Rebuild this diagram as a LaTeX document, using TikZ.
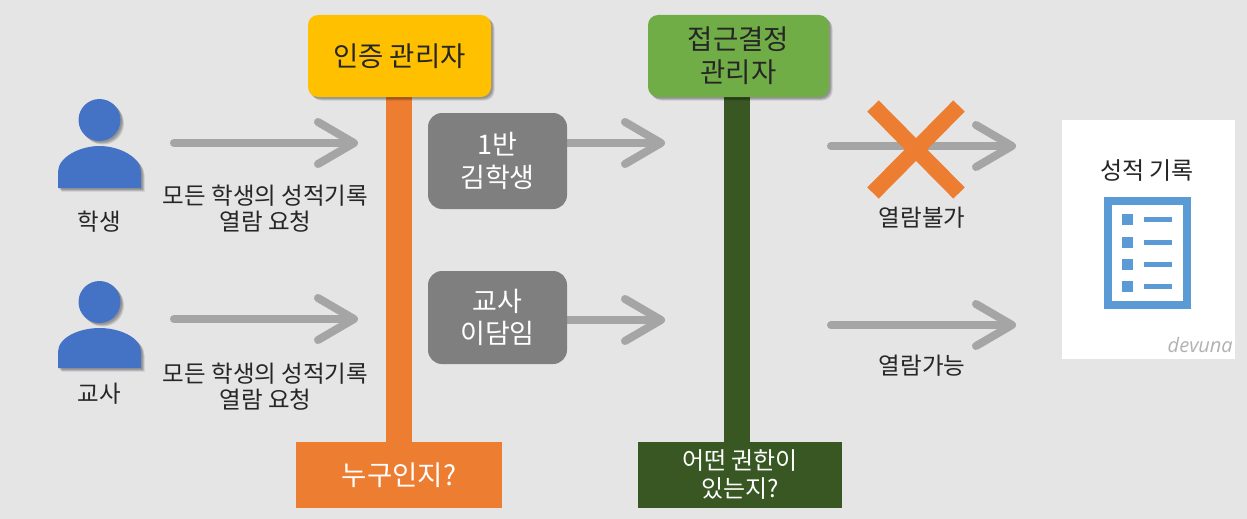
\documentclass[tikz,border=0pt]{standalone}
\usepackage{fontspec}
\setmainfont{Noto Sans CJK KR}
\newfontfamily\latinit{Open Sans}
\usetikzlibrary{arrows.meta,shadows,positioning,backgrounds}
\definecolor{bgc}{HTML}{E5E5E5}
\definecolor{yel}{HTML}{FFC000}
\definecolor{grn}{HTML}{70AD47}
\definecolor{org}{HTML}{ED7D31}
\definecolor{dgr}{HTML}{385723}
\definecolor{gbox}{HTML}{7F7F7F}
\definecolor{garr}{HTML}{A5A5A5}
\definecolor{pers}{HTML}{4472C4}
\definecolor{docb}{HTML}{5B9BD5}
\definecolor{txt}{HTML}{262626}
\tikzset{
  x=1pt,y=-1pt,
  softshadow/.style={
    drop shadow={shadow xshift=1.5pt,shadow yshift=-1.5pt,opacity=.14,fill=black},
    drop shadow={shadow xshift=2.5pt,shadow yshift=-2.5pt,opacity=.14,fill=black},
    drop shadow={shadow xshift=3.5pt,shadow yshift=-3.5pt,opacity=.12,fill=black}},
  header/.style={rounded corners=10pt,minimum height=82pt,inner sep=0pt,align=center,font=\fontsize{27.5}{33}\selectfont,text=black!85,softshadow},
  foot/.style={minimum height=66pt,inner sep=0pt,align=center,text=white},
  who/.style={fill=gbox,rounded corners=14pt,minimum width=139pt,inner sep=0pt,align=center,text=white,font=\fontsize{27}{32.5}\selectfont},
  lab/.style={text=txt,align=center,inner sep=0pt,font=\fontsize{23.5}{26}\selectfont},
  flow/.style={draw=garr,line width=8pt,line cap=round,-{Straight Barb[length=36pt,width=42pt,round]}},
  bar/.style={line width=26pt},
  nope/.style={draw=org,line width=16pt},
  personbody/.style={fill=pers,softshadow},
  docline/.style={draw=docb,line width=5pt},
  docdot/.style={fill=docb,minimum size=11pt,inner sep=0pt},
}
\begin{document}
\begin{tikzpicture}
\path[use as bounding box] (0,0) rectangle (1247,519);

% headers and feet
\node[header,fill=yel,minimum width=183pt] (auth) at (399.5,56) {인증 관리자};
\node[header,fill=grn,minimum width=181pt] (acc) at (738.5,56) {접근결정\\관리자};
\node[foot,fill=org,minimum width=206pt,font=\fontsize{27.5}{30}\selectfont] (footA) at (399,475) {누구인지?};
\node[foot,fill=dgr,minimum width=204pt,font=\fontsize{24}{28}\selectfont] (footB) at (740,475) {어떤 권한이\\있는지?};
\begin{scope}[on background layer]
\fill[bgc] (0,0) rectangle (1247,519);
\draw[bar,draw=org] ([xshift=-.5pt]auth.south) -- (footA.north);
\draw[bar,draw=dgr] ([xshift=-1.5pt]acc.south) -- ([xshift=-3pt]footB.north);
\end{scope}

% people
\fill[pers,softshadow] (99.5,120) circle (21pt);
\path[personbody] (58,188) -- (58,172) .. controls (58,157) and (80,146) .. (99.5,146) .. controls (119,146) and (141,157) .. (141,172) -- (141,188) -- cycle;
\fill[pers,softshadow] (99.5,302) circle (21pt);
\path[personbody] (58,368) -- (58,352) .. controls (58,337) and (80,328) .. (99.5,328) .. controls (119,328) and (141,337) .. (141,352) -- (141,368) -- cycle;
\node[lab] (stu) at (99.5,221.5) {학생};
\node[lab] (tea) at (99.5,394) {교사};

% request arrows
\coordinate (s1) at (174,143); \coordinate (e1) at (358,143);
\coordinate (s2) at (174,319); \coordinate (e2) at (358,319);
\draw[flow] (s1) -- (e1);
\draw[flow] (s2) -- (e2);
\node[lab] (req1) at (265.5,209) {모든 학생의 성적기록\\열람 요청};
\node[lab] (req2) at (265.5,387) {모든 학생의 성적기록\\열람 요청};

% identities
\coordinate (t1) at (665,143); \coordinate (t2) at (665,320);
\coordinate (k1) at (500,143); \coordinate (k2) at (500,320);
\draw[flow] (k1) -- (t1);
\draw[flow] (k2) -- (t2);
\node[who,minimum height=96pt] (kim) at (497.5,161) {1반\\김학생};
\node[who,minimum height=93pt] (lee) at (497.5,317.5) {교사\\이담임};

% results
\coordinate (s3) at (831,146); \coordinate (e3) at (1016,146);
\coordinate (s4) at (831,325); \coordinate (e4) at (1016,325);
\draw[flow] (s3) -- (e3);
\draw[flow] (s4) -- (e4);
\coordinate (x1) at (873,106); \coordinate (x2) at (959,193);
\coordinate (x3) at (959,106); \coordinate (x4) at (873,193);
\draw[nope] (x1) -- (x2);
\draw[nope] (x3) -- (x4);
\node[lab] (no) at (922,218) {열람불가};
\node[lab] (yes) at (922,366) {열람가능};

% record card
\node[fill=white,minimum width=173pt,minimum height=239pt,inner sep=0pt] (card) at (1148.5,239.5) {};
\node[lab,font=\fontsize{24}{26}\selectfont] (rec) at (1147,170.5) {성적 기록};
\draw[draw=docb,line width=8pt] (1108,201) rectangle (1187,305);
\node[docdot] (d1) at (1127.5,219.5) {}; \coordinate (l1) at (1172,219.5);
\node[docdot] (d2) at (1127.5,242) {};   \coordinate (l2) at (1172,242);
\node[docdot] (d3) at (1127.5,264) {};   \coordinate (l3) at (1172,264);
\node[docdot] (d4) at (1127.5,286.5) {}; \coordinate (l4) at (1172,286.5);
\draw[docline] (1144,219.5) -- (l1);
\draw[docline] (1144,242) -- (l2);
\draw[docline] (1144,264) -- (l3);
\draw[docline] (1144,286.5) -- (l4);
\node[anchor=east,inner sep=0pt,text=black!30,font=\latinit\itshape\fontsize{20}{22}\selectfont] (mark) at (1233,345) {devuna};
\end{tikzpicture}
\end{document}
